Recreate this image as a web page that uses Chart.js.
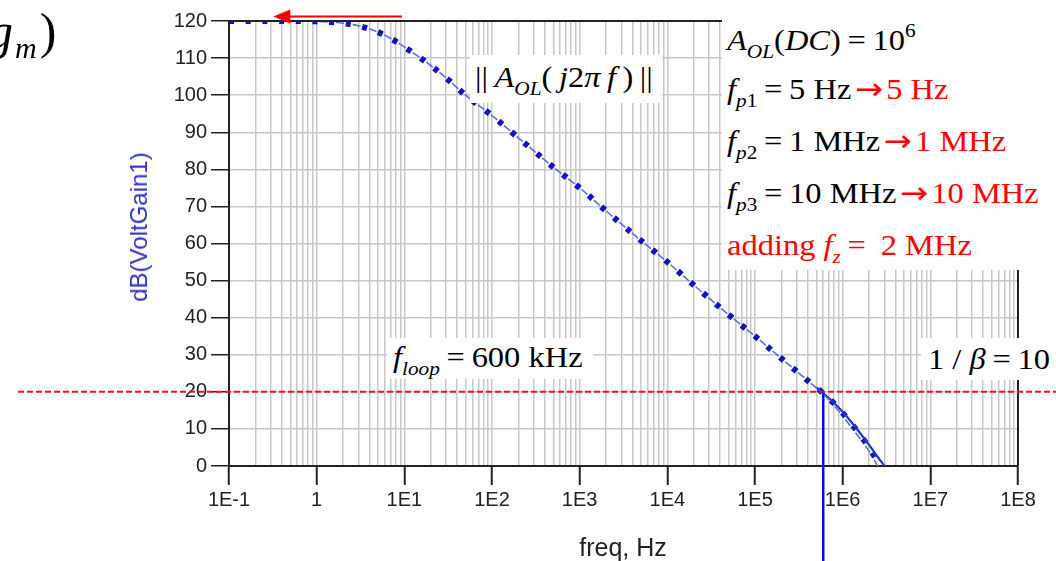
<!DOCTYPE html>
<html><head><meta charset="utf-8">
<script src="https://cdn.jsdelivr.net/npm/chart.js@4.4.1/dist/chart.umd.min.js"></script>
<style>
body{margin:0;background:#fff}
#wrap{position:relative;width:1056px;height:561px;overflow:hidden;background:#fff}
canvas{position:absolute;left:0;top:0}
.box{position:absolute;background:#fff}
.m{position:absolute;font-family:'Liberation Serif','Times New Roman',serif;font-size:29px;line-height:30px;white-space:nowrap;color:#000;transform:scaleX(1.12);transform-origin:0 0}
.m i{font-style:italic}
.sb{font-size:19px;position:relative;top:8px}
.sp{font-size:19px;position:relative;top:-13px}
.r{color:#f00}
.eq{margin:0 6px}
.ar{font-family:'DejaVu Sans',sans-serif;font-size:30px;margin:0 3px 0 3px}
.t{position:absolute;font-family:'Liberation Sans',Arial,sans-serif;white-space:nowrap}
</style></head>
<body>
<div id="wrap">
<canvas id="c" width="1056" height="561"></canvas>

<div class="m" style="left:-12px;top:6px;font-size:50px;line-height:50px;transform:none"><i>g</i><span style="font-size:30px;position:relative;top:10px;margin-left:2px"><i>m</i></span><span style="margin-left:3px">)</span></div>

<div class="box" style="left:722px;top:15px;width:334px;height:255px"></div>
<div class="m" style="left:727px;top:25px"><i>A</i><span class="sb"><i>OL</i></span>(<i>DC</i>)<span class="eq">=</span>10<span class="sp">6</span></div>
<div class="m" style="left:727px;top:74px"><i>f</i><span class="sb"><i>p</i>1</span><span class="eq">=</span>5 Hz<span class="r"><span class="ar">&#8594;</span>5 Hz</span></div>
<div class="m" style="left:727px;top:126px"><i>f</i><span class="sb"><i>p</i>2</span><span class="eq">=</span>1 MHz<span class="r"><span class="ar">&#8594;</span>1 MHz</span></div>
<div class="m" style="left:727px;top:178px"><i>f</i><span class="sb"><i>p</i>3</span><span class="eq">=</span>10 MHz<span class="r"><span class="ar">&#8594;</span>10 MHz</span></div>
<div class="m r" style="left:727px;top:230px">adding <i>f</i><span class="sb"><i>z</i></span><span class="eq">=</span>&nbsp;2 MHz</div>

<div class="box" style="left:470px;top:55px;width:192px;height:48px"></div>
<div class="m" style="left:475px;top:62px">||&#8201;<i>A</i><span class="sb"><i>OL</i></span>(&#8201;<i>j</i>2<i>&#960;&#8201;f</i>&#8201;)&#8201;||</div>

<div class="box" style="left:387px;top:338px;width:206px;height:41px"></div>
<div class="m" style="left:393px;top:342px"><i>f</i><span class="sb"><i>loop</i></span><span class="eq">=</span>600 kHz</div>

<div class="box" style="left:921px;top:338px;width:130px;height:42px"></div>
<div class="m" style="left:928px;top:344px">1 / <i>&#946;</i><span class="eq">=</span>10</div>

<div class="t" style="left:139px;top:227px;font-size:24px;line-height:24px;color:#2e2ec8;transform:translate(-50%,-50%) rotate(-90deg)">dB(VoltGain1)</div>
<div class="t" style="left:623px;top:535px;font-size:25px;line-height:25px;color:#222;transform:translateX(-50%)">freq, Hz</div>
</div>

<script>
// ---- data ----
const xDecades = [0.1, 1, 10, 100, 1e3, 1e4, 1e5, 1e6, 1e7, 1e8];
const xTickLabels = ['1E-1', '1', '1E1', '1E2', '1E3', '1E4', '1E5', '1E6', '1E7', '1E8'];
const yTickValues = [0, 10, 20, 30, 40, 50, 60, 70, 80, 90, 100, 110, 120];

// main open-loop gain trace (dotted)
const mainFreq = [0.1, 0.2, 0.5, 1, 2, 3, 5, 7, 10, 20, 30, 50, 100, 200, 500, 1e3, 2e3, 5e3, 1e4, 2e4, 5e4, 1e5, 2e5, 4e5, 6e5, 8e5, 1e6, 1.3e6, 1.6e6, 2e6, 2.3e6, 2.6e6];
const mainDb   = [120, 120, 120, 119.9, 119.4, 118.7, 117, 115.3, 113, 108, 104.6, 100, 94.5, 88.5, 80.6, 75, 68.8, 60.8, 55, 48.8, 40.8, 35, 29, 23, 19.6, 16.8, 14.3, 11, 8.2, 5, 2.6, 0.3];
// thin dashed trace
const altFreq = [0.1, 0.2, 0.5, 1, 2, 3, 5, 7, 10, 20, 30, 50, 100, 200, 500, 1e3, 2e3, 5e3, 1e4, 2e4, 5e4, 1e5, 2e5, 4e5, 6e5, 8e5, 1e6, 1.3e6, 1.6e6, 2e6, 2.5e6];
const altDb   = [120, 120, 120, 119.9, 119.4, 118.7, 117, 115.3, 113, 108, 104.6, 100, 94.5, 88.5, 80.6, 75, 68.8, 60.8, 55, 48.8, 40.8, 35, 29, 23, 19.4, 16.3, 13.5, 10, 7.2, 4, 0];
// solid trace (with added zero)
const zeroFreq = [5e5, 6e5, 8e5, 1e6, 1.3e6, 1.6e6, 2e6, 2.5e6, 3e6];
const zeroDb   = [21.2, 19.6, 17, 14.6, 11.4, 8.7, 5.7, 2.5, 0];

// annotation values
const betaGainDb = 20;       // 1/beta = 10 -> 20 dB
const loopFreq = 6e5;        // f_loop = 600 kHz
const arrowFromFreq = 9.4, arrowToFreq = 0.32, arrowDb = 121.2;

const pts = (fs, ds) => fs.map((f, i) => ({x: f, y: ds[i]}));
const isDecade = v => Math.abs(Math.log10(v) - Math.round(Math.log10(v))) < 1e-9;

const overlay = {
  id: 'overlay',
  afterDraw(chart) {
    const {ctx, chartArea: a, scales: {x, y}} = chart;
    ctx.save();
    ctx.strokeStyle = '#222'; ctx.lineWidth = 2;
    ctx.beginPath(); ctx.moveTo(a.left, a.top); ctx.lineTo(a.right, a.top); ctx.lineTo(a.right, a.bottom); ctx.stroke();
    ctx.lineWidth = 1.5;
    for (const t of y.ticks) {
      if (t.value % 10 !== 0) {
        const py = Math.round(y.getPixelForValue(t.value)) + 0.5;
        ctx.beginPath(); ctx.moveTo(a.left - 8, py); ctx.lineTo(a.left, py); ctx.stroke();
      }
    }
    const py20 = y.getPixelForValue(betaGainDb);
    ctx.strokeStyle = '#ff1010'; ctx.lineWidth = 2; ctx.setLineDash([6, 3]);
    ctx.beginPath(); ctx.moveTo(18, py20); ctx.lineTo(chart.width, py20); ctx.stroke();
    ctx.setLineDash([]);
    const px = x.getPixelForValue(loopFreq);
    ctx.strokeStyle = '#0a0ae8'; ctx.lineWidth = 2.5;
    ctx.beginPath(); ctx.moveTo(px, py20); ctx.lineTo(px, chart.height); ctx.stroke();
    // red arrow
    const ay = y.getPixelForValue(arrowDb);
    const ax0 = x.getPixelForValue(arrowFromFreq), ax1 = x.getPixelForValue(arrowToFreq);
    ctx.strokeStyle = '#ff0000'; ctx.fillStyle = '#ff0000'; ctx.lineWidth = 2;
    ctx.beginPath(); ctx.moveTo(ax0, ay); ctx.lineTo(ax1 + 12, ay); ctx.stroke();
    ctx.beginPath(); ctx.moveTo(ax1, ay); ctx.lineTo(ax1 + 17, ay - 7); ctx.lineTo(ax1 + 17, ay + 7); ctx.closePath(); ctx.fill();
    ctx.restore();
  }
};

new Chart(document.getElementById('c'), {
  type: 'line',
  data: {
    datasets: [
      {data: pts(altFreq, altDb), borderColor: '#5a6ee0', borderWidth: 1.6, borderDash: [8, 8.7], borderDashOffset: -7, pointRadius: 0, cubicInterpolationMode: 'monotone', fill: false},
      {data: pts(zeroFreq, zeroDb), borderColor: '#2434cc', borderWidth: 2.2, pointRadius: 0, cubicInterpolationMode: 'monotone', fill: false},
      {data: pts(mainFreq, mainDb), borderColor: '#1212c4', borderWidth: 6, borderDash: [5, 11.7], borderCapStyle: 'butt', pointRadius: 0, cubicInterpolationMode: 'monotone', fill: false}
    ]
  },
  options: {
    responsive: false, animation: false, devicePixelRatio: 1,
    layout: {padding: {left: 0, top: 21, right: 38, bottom: 0}},
    plugins: {legend: {display: false}, tooltip: {enabled: false}},
    scales: {
      x: {
        type: 'logarithmic', min: xDecades[0], max: xDecades[xDecades.length - 1],
        afterBuildTicks(scale) {
          const t = [];
          for (let d = 0; d < xDecades.length; d++) {
            t.push({value: xDecades[d]});
            if (d < xDecades.length - 1) for (let k = 2; k <= 9; k++) t.push({value: xDecades[d] * k});
          }
          scale.ticks = t;
        },
        afterFit(scale) { scale.height = 95; },
        ticks: {
          autoSkip: false, maxRotation: 0, padding: 3, color: '#222',
          font: {family: "'Liberation Sans', Arial, sans-serif", size: 20},
          callback(v) {
            if (!isDecade(v)) return '';
            const i = xDecades.findIndex(d => Math.abs(Math.log10(d) - Math.log10(v)) < 1e-9);
            return i >= 0 ? xTickLabels[i] : '';
          }
        },
        grid: {
          color: c => (c.tick && (c.tick.value === xDecades[0] || c.tick.value === xDecades[xDecades.length-1])) ? 'rgba(0,0,0,0)' : '#c8c8c8',
          lineWidth: 1.5,
          tickColor: c => (c.tick && isDecade(c.tick.value)) ? '#222' : 'rgba(0,0,0,0)',
          tickLength: 19, tickWidth: 2
        },
        border: {display: true, color: '#222', width: 2}
      },
      y: {
        min: 0, max: 120,
        afterFit(scale) { scale.width = 229; },
        ticks: {
          stepSize: 5, padding: 4, color: '#222',
          font: {family: "'Liberation Sans', Arial, sans-serif", size: 20},
          callback: v => yTickValues.includes(v) ? String(v) : ''
        },
        grid: {
          color: c => (c.tick && c.tick.value % 10 === 0 && c.tick.value > 0 && c.tick.value < 120) ? '#c8c8c8' : 'rgba(0,0,0,0)',
          lineWidth: 1.5,
          tickColor: c => (c.tick && c.tick.value % 10 === 0) ? '#222' : 'rgba(0,0,0,0)',
          tickLength: 18, tickWidth: 1.5
        },
        border: {display: true, color: '#222', width: 2}
      }
    }
  },
  plugins: [overlay]
});
</script>
</body></html>
